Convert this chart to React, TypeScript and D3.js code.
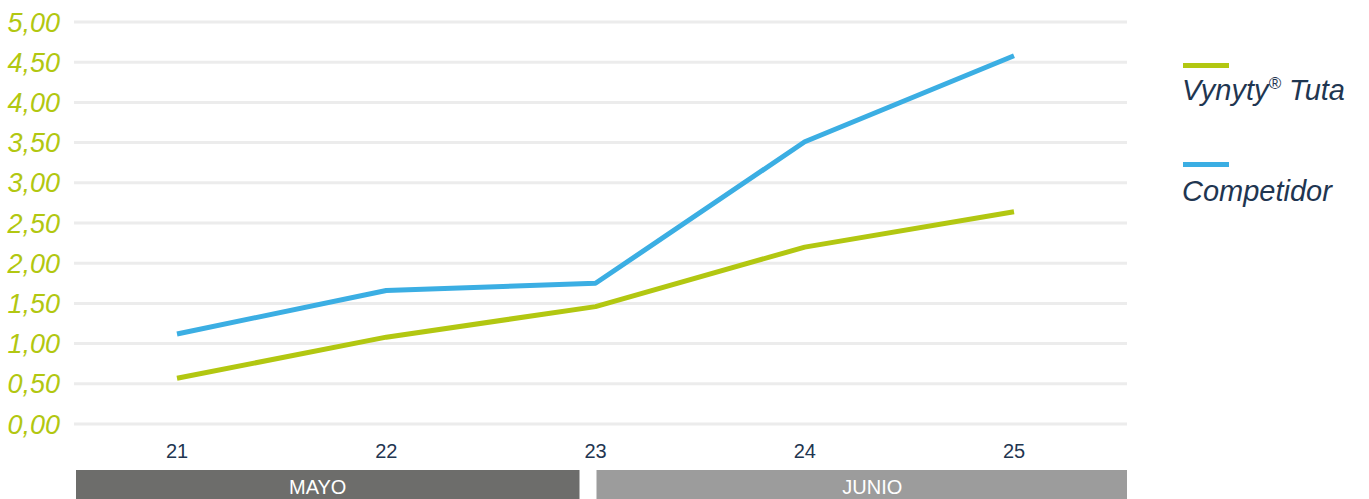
import React, { useRef, useEffect } from 'react';
import * as d3 from 'd3';

const days = ['21', '22', '23', '24', '25'];
const vynyty = [0.57, 1.08, 1.46, 2.2, 2.64];
const competidor = [1.12, 1.66, 1.75, 3.51, 4.58];
const yTicks = [0, 0.5, 1, 1.5, 2, 2.5, 3, 3.5, 4, 4.5, 5];
const months = [
  { name: 'MAYO', from: 0, to: 2 },
  { name: 'JUNIO', from: 2, to: 4 },
];
const seriesNames = ['Vynyty', 'Competidor'];

const W = 1369;
const H = 499;
const GREEN = '#b2c711';
const BLUE = '#3baee3';
const NAVY = '#1f3651';
const FONT = '"Liberation Sans", Arial, Helvetica, sans-serif';

const App: React.FC = () => {
  const svgRef = useRef<SVGSVGElement>(null);

  useEffect(() => {
    if (!svgRef.current) return;
    const svg = d3.select(svgRef.current);
    svg.selectAll('*').remove();

    const gridLeft = 74;
    const gridRight = 1127;

    const x = d3.scalePoint<string>().domain(days).range([177, 1014]);
    const y = d3.scaleLinear().domain([0, 5]).range([424, 22]);

    // gridlines
    svg.append('g')
      .selectAll('line')
      .data(yTicks)
      .enter().append('line')
      .attr('x1', gridLeft)
      .attr('x2', gridRight)
      .attr('y1', d => y(d))
      .attr('y2', d => y(d))
      .attr('stroke', '#ececec')
      .attr('stroke-width', 3);

    // y labels
    svg.append('g')
      .selectAll('text')
      .data(yTicks)
      .enter().append('text')
      .attr('x', 60)
      .attr('y', d => y(d) + 9.5)
      .attr('text-anchor', 'end')
      .attr('font-family', FONT)
      .attr('font-style', 'italic')
      .attr('font-size', 27)
      .attr('fill', GREEN)
      .text(d => d.toFixed(2).replace('.', ','));

    // x labels
    svg.append('g')
      .selectAll('text')
      .data(days)
      .enter().append('text')
      .attr('x', d => x(d)!)
      .attr('y', 458)
      .attr('text-anchor', 'middle')
      .attr('font-family', FONT)
      .attr('font-size', 20)
      .attr('fill', NAVY)
      .text(d => d);

    // month bars
    const barX = (i: number, side: 'l' | 'r') => {
      const px = x(days[i])!;
      if (side === 'l') return i === 0 ? gridLeft + 2 : px + 1;
      return i === days.length - 1 ? gridRight : px - 16;
    };
    const mg = svg.append('g');
    months.forEach((m, i) => {
      const x0 = barX(m.from, 'l');
      const x1 = barX(m.to, 'r');
      mg.append('rect')
        .attr('x', x0)
        .attr('y', 470)
        .attr('width', x1 - x0)
        .attr('height', 30)
        .attr('fill', i === 0 ? '#6d6d6b' : '#9c9c9c');
      mg.append('text')
        .attr('x', x0 + (x1 - x0) * (i === 0 ? 0.48 : 0.52))
        .attr('y', 494)
        .attr('text-anchor', 'middle')
        .attr('font-family', FONT)
        .attr('font-size', 20)
        .attr('fill', '#ffffff')
        .text(m.name);
    });

    // lines
    const line = d3.line<number>()
      .x((_, i) => x(days[i])!)
      .y(d => y(d));

    [[competidor, BLUE], [vynyty, GREEN]].forEach(([vals, color]) => {
      svg.append('path')
        .datum(vals as number[])
        .attr('d', line)
        .attr('fill', 'none')
        .attr('stroke', color as string)
        .attr('stroke-width', 5)
        .attr('stroke-linejoin', 'round');
    });

    // legend
    const legend = svg.append('g');
    seriesNames.forEach((name, i) => {
      const ly = 65 + i * 99;
      legend.append('rect')
        .attr('x', 1183)
        .attr('y', ly - 2)
        .attr('width', 46)
        .attr('height', 5)
        .attr('fill', i === 0 ? GREEN : BLUE);
      const t = legend.append('text')
        .attr('x', 1182)
        .attr('y', ly + 35 + i * 2)
        .attr('font-family', FONT)
        .attr('font-style', 'italic')
        .attr('font-size', 29)
        .attr('fill', NAVY);
      if (i === 0) {
        t.append('tspan').text('Vynyty');
        t.append('tspan').attr('font-size', 17).attr('dy', -11).text('®');
        t.append('tspan').attr('dy', 11).text(' Tuta');
      } else {
        t.text(name);
      }
    });
  }, []);

  return (
    <div>
      <svg
        ref={svgRef}
        width={W}
        height={H}
        style={{ position: 'absolute', left: 0, top: 0, background: '#fff' }}
      />
    </div>
  );
};

export default App;
